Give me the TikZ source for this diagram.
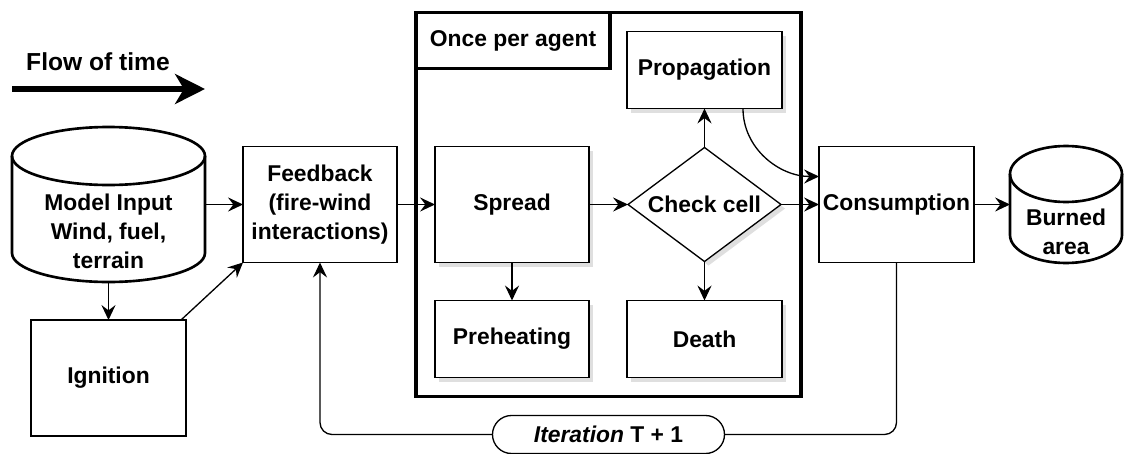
\documentclass[tikz,border=0pt]{standalone}
\usepackage{fontspec}
\setmainfont{Liberation Sans}
\usetikzlibrary{arrows.meta,positioning,fit,shapes.geometric,shapes.misc,shadows}

% outline of a database cylinder around a (bare) node
\newcommand{\cylinderoutline}[3]{%
  \draw[cylline] ([yshift=-#3]#1.north west) -- ([yshift=#3]#1.south west)
    arc[start angle=180, end angle=360, x radius=#2, y radius=#3]
    -- ([yshift=-#3]#1.north east);
  \draw[cylline] ([yshift=-#3]#1.north) ellipse[x radius=#2, y radius=#3];
}

\begin{document}
\begin{tikzpicture}[->,>={Stealth[length=8.5pt,width=8pt,inset=3pt]},line width=0.75pt,
                    every node/.style={font=\fontsize{13}{16.4}\selectfont\bfseries,outer sep=0pt},
                    box/.style={draw,fill=white,align=center,inner sep=2pt,
                                minimum width=3.08cm,minimum height=2.32cm},
                    shade/.style={drop shadow={opacity=0.25,shadow xshift=2.3pt,shadow yshift=-2.3pt}},
                    small/.style={box,shade,minimum width=3.1cm,minimum height=1.54cm},
                    check/.style={diamond,draw,fill=white,aspect=1.34,inner sep=0pt,
                                  minimum width=3.06cm,minimum height=2.28cm,shade},
                    cyl/.style={inner sep=0pt},
                    cylline/.style={-,line width=1.5pt},
                    frame/.style={draw,line width=1.9pt,inner sep=0.38cm},
                    flow/.style={line width=3.4pt,-{Stealth[length=17pt,width=17pt,inset=5pt]}},
                    loop/.style={rounded corners=0.24cm},
                    pill/.style={rounded rectangle,draw,fill=white,minimum width=4.64cm,
                                 minimum height=0.76cm,inner sep=0pt}]
  \useasboundingbox (0,0) rectangle (22.48,-9.06);

  % time arrow
  \node (flowtxt) at (1.96,-1.24) {\fontsize{14}{16}\selectfont Flow of time};
  \coordinate (flowstart) at (0.24,-1.78);
  \coordinate (flowend)   at (4.1,-1.78);
  \draw[flow] (flowstart) -- (flowend);

  \node[cyl,minimum width=3.86cm,minimum height=3.1cm] (input) at (2.17,-4.09) {};
  \node[box]   (feed)   [right=0.76cm of input] {Feedback\\(fire-wind\\interactions)};
  \node[box,minimum width=3.1cm] (ign) [below=0.76cm of input] {Ignition};
  \node[box,shade] (spread) [right=0.76cm of feed] {Spread};
  \node[check] (chk)    [right=0.78cm of spread] {Check cell};
  \node[small] (prop)   [above=0.78cm of chk] {Propagation};
  \node[small] (death)  [below=0.78cm of chk] {Death};
  \node[small,minimum width=3.08cm] (preh) [below=0.76cm of spread] {Preheating};
  \node[box,minimum width=3.1cm] (cons) [right=0.76cm of chk] {Consumption};
  \node[cyl,minimum width=2.24cm,minimum height=2.34cm] (burned) [right=0.72cm of cons] {};

  \node[align=center] (inputtxt)  at ([yshift=-0.54cm]input.center) {Model Input\\Wind, fuel,\\terrain};
  \node[align=center] (burnedtxt) at ([yshift=-0.55cm]burned.center) {Burned\\area};
  \cylinderoutline{input}{1.93cm}{0.58cm}
  \cylinderoutline{burned}{1.12cm}{0.56cm}

  \node[frame,fit=(prop)(spread)(preh)(death)] (agentframe) {};
  \node[draw,line width=1.9pt,minimum width=3.88cm,minimum height=1.12cm,anchor=north west]
        (agent) at (agentframe.north west) {Once per agent};

  \node[pill] (iter) [below=0.38cm of agentframe] {\textit{Iteration} T + 1};

  \draw (input) -- (feed);
  \draw (input) -- (ign);
  \draw ([xshift=-0.1cm]ign.north east) -- (feed.south west);
  \draw (feed) -- (spread);
  \draw (spread) -- (chk);
  \draw (spread) -- (preh);
  \draw (chk) -- (prop);
  \draw (chk) -- (death);
  \draw (chk) -- (cons);
  \draw ([xshift=-0.78cm]prop.south east) to[out=-90,in=180] ([yshift=0.56cm]cons.west);
  \draw (cons) -- (burned);
  \draw[-,loop] (cons.south) |- (iter.east);
  \draw[loop] (iter.west) -| (feed.south);
\end{tikzpicture}
\end{document}
